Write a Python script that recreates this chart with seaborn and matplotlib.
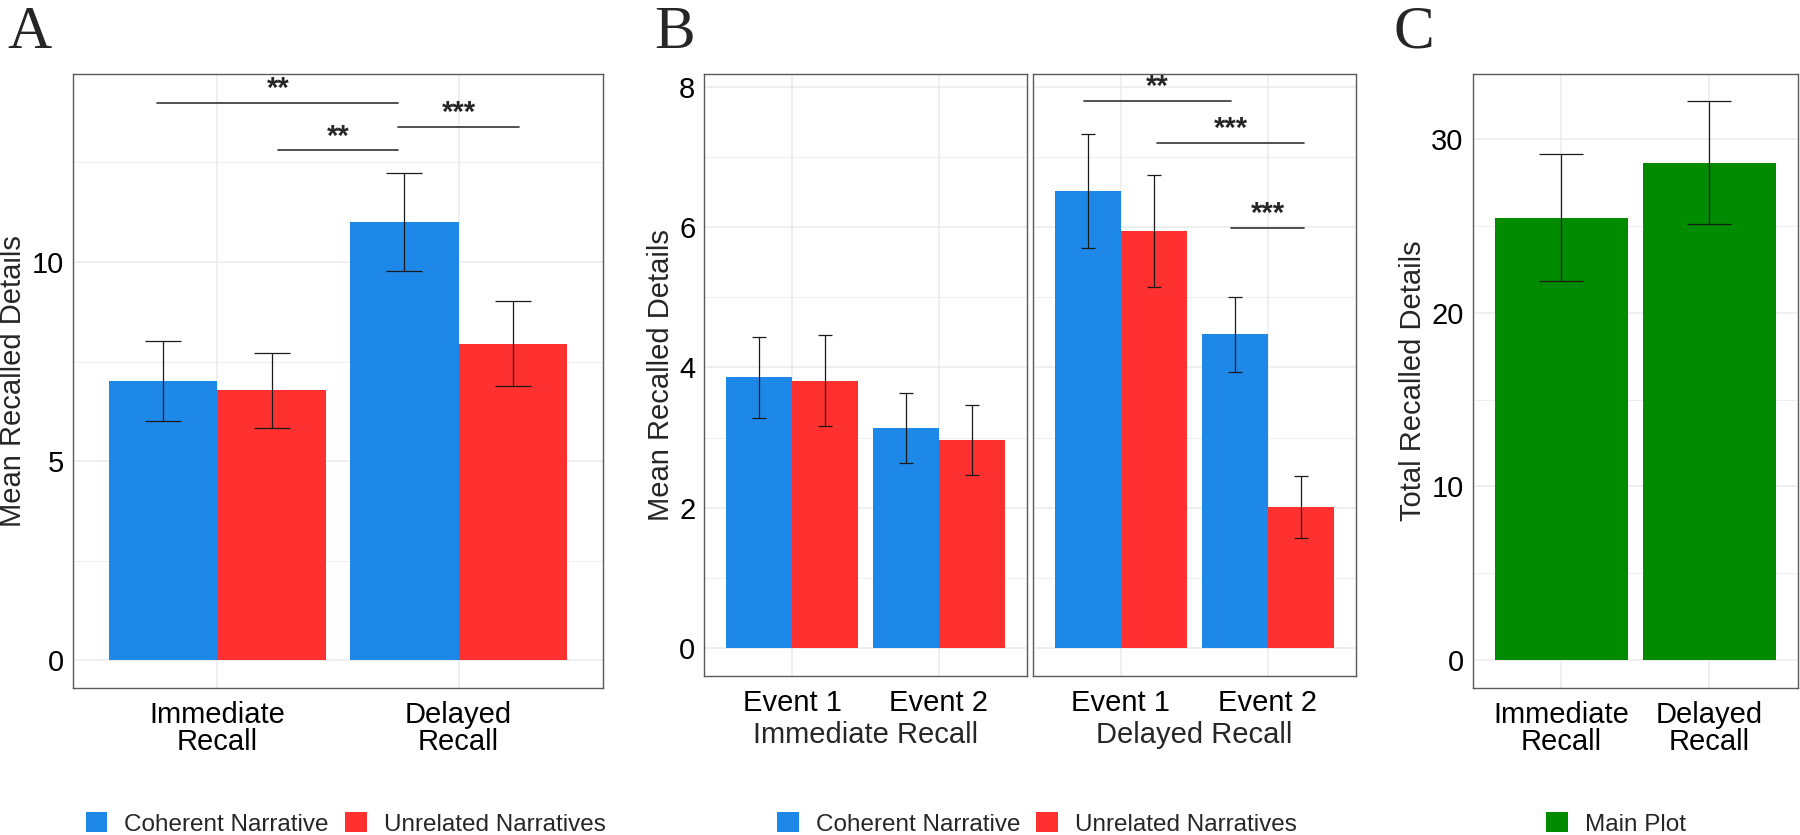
import matplotlib
import matplotlib.pyplot as plt
import numpy as np
import pandas as pd
import seaborn as sns
from matplotlib.container import BarContainer

matplotlib.use("Agg")

# --- DATA ---
RECALL = ["Immediate\nRecall", "Delayed\nRecall"]
CONDITIONS = ["Coherent Narrative", "Unrelated Narratives"]
EVENTS = ["Event 1", "Event 2"]
PHASES = ["Immediate Recall", "Delayed Recall"]
TOTAL_SERIES = ["Main Plot"]

# panel A: mean recalled details per recall phase
A_COHERENT = [7.02, 11.0]
A_COHERENT_SE = [1.0, 1.23]
A_UNRELATED = [6.78, 7.95]
A_UNRELATED_SE = [0.94, 1.06]

# panel B: per event, one facet per recall phase
B_IMM_COHERENT = [3.86, 3.14]
B_IMM_COHERENT_SE = [0.58, 0.50]
B_IMM_UNRELATED = [3.81, 2.97]
B_IMM_UNRELATED_SE = [0.65, 0.50]
B_DEL_COHERENT = [6.51, 4.47]
B_DEL_COHERENT_SE = [0.81, 0.53]
B_DEL_UNRELATED = [5.94, 2.01]
B_DEL_UNRELATED_SE = [0.80, 0.44]

# panel C: total recalled details
C_TOTAL = [25.5, 28.65]
C_TOTAL_SE = [3.65, 3.55]

# significance brackets: (x start, x end, height, label)
A_SIG = [(-0.25, 0.75, 14.0, "**"), (0.25, 0.75, 12.8, "**"), (0.75, 1.25, 13.4, "***")]
B_SIG = [(-0.25, 0.75, 7.79, "**"), (0.25, 1.25, 7.2, "***"), (0.75, 1.25, 5.99, "***")]

BLUE = "#1E88E8"
RED = "#FF3030"
GREEN = "#008B00"
FS = 21

sns.set_style("white")
plt.rcParams["font.family"] = ["Liberation Sans", "DejaVu Sans"]

W, H = 1800, 835
fig = plt.figure(figsize=(W / 100, H / 100), dpi=100)


def px_axes(x0, y0, x1, y1):
    return fig.add_axes([x0 / W, 1 - y1 / H, (x1 - x0) / W, (y1 - y0) / H])


def style_axes(ax, yticks, yminor, ylim):
    ax.set_facecolor("white")
    for s in ax.spines.values():
        s.set_visible(True)
        s.set_color("#5a5a5a")
        s.set_linewidth(1.0)
    ax.set_xlim(-0.6, 1.6)
    ax.set_ylim(*ylim)
    ax.set_yticks(yticks)
    ax.set_yticks(yminor, minor=True)
    ax.grid(True, which="major", color="#ebebeb", lw=1.1)
    ax.grid(True, which="minor", axis="y", color="#ebebeb", lw=0.6)
    ax.set_axisbelow(True)
    ax.tick_params(which="major", length=3, width=0.9, color="#333333", pad=3.5,
                   labelsize=FS, labelcolor="black")
    ax.tick_params(axis="x", pad=6.5)
    ax.tick_params(which="minor", length=0)
    ax.set_xlabel("")
    ax.set_ylabel("")


def add_errorbars(ax, errs, capsize):
    bars = [c for c in ax.containers if isinstance(c, BarContainer)]
    for container, se in zip(bars, errs):
        for bar, e in zip(container, se):
            ax.errorbar(bar.get_x() + bar.get_width() / 2, bar.get_height(), yerr=e,
                        color="#1a1a1a", lw=0.9, capsize=capsize, capthick=0.9)


def add_brackets(ax, brackets):
    for x0, x1, y, label in brackets:
        ax.plot([x0, x1], [y, y], color="#333333", lw=1.2)
        ax.annotate(label, xy=((x0 + x1) / 2, y), xytext=(0, 4.3), textcoords="offset points",
                    ha="center", va="baseline", fontsize=21, fontweight="bold")


def legend_below(ax, x, y):
    sns.move_legend(ax, "center", bbox_to_anchor=(x, y), ncol=2, title=None, frameon=False,
                    fontsize=17.5, handlelength=0.9, handleheight=0.9, handletextpad=0.7,
                    columnspacing=0.65, borderpad=0, borderaxespad=0)


# ---------------- Panel A ----------------
df_a = pd.DataFrame({
    "recall": RECALL * 2,
    "condition": np.repeat(CONDITIONS, 2),
    "mean": A_COHERENT + A_UNRELATED,
})
ax_a = px_axes(72.7, 74, 603.4, 688.3)
sns.barplot(data=df_a, x="recall", y="mean", hue="condition", order=RECALL,
            hue_order=CONDITIONS, palette=[BLUE, RED], width=0.9, saturation=1,
            errorbar=None, linewidth=0, ax=ax_a)
style_axes(ax_a, [0, 5, 10], [2.5, 7.5, 12.5], (-0.70, 14.72))
add_errorbars(ax_a, [A_COHERENT_SE, A_UNRELATED_SE], 12.8)
add_brackets(ax_a, A_SIG)
ax_a.set_ylabel("Mean Recalled Details", fontsize=FS, labelpad=3)
for t in ax_a.get_xticklabels():
    t.set_linespacing(0.95)
legend_below(ax_a, 0.514, -0.221)

# ---------------- Panel B ----------------
df_b = pd.DataFrame({
    "phase": np.repeat(PHASES, 4),
    "event": EVENTS * 4,
    "condition": np.tile(np.repeat(CONDITIONS, 2), 2),
    "mean": B_IMM_COHERENT + B_IMM_UNRELATED + B_DEL_COHERENT + B_DEL_UNRELATED,
})
ax_b1 = px_axes(704.3, 74, 1026.7, 675.7)
ax_b2 = px_axes(1032.7, 74, 1355.7, 675.7)
for ax, phase, show_legend in [(ax_b1, PHASES[0], True), (ax_b2, PHASES[1], False)]:
    sns.barplot(data=df_b[df_b["phase"] == phase], x="event", y="mean", hue="condition",
                order=EVENTS, hue_order=CONDITIONS, palette=[BLUE, RED], width=0.9,
                saturation=1, errorbar=None, linewidth=0, legend=show_legend, ax=ax)
    style_axes(ax, [0, 2, 4, 6, 8], [1, 3, 5, 7], (-0.39, 8.18))
    ax.set_xlabel(phase, fontsize=FS, labelpad=3)
add_errorbars(ax_b1, [B_IMM_COHERENT_SE, B_IMM_UNRELATED_SE], 5.3)
add_errorbars(ax_b2, [B_DEL_COHERENT_SE, B_DEL_UNRELATED_SE], 5.3)
add_brackets(ax_b2, B_SIG)
ax_b1.set_ylabel("Mean Recalled Details", fontsize=FS, labelpad=3)
ax_b2.tick_params(axis="y", which="both", length=0, labelleft=False)
legend_below(ax_b1, 1.031, -0.2465)

# ---------------- Panel C ----------------
df_c = pd.DataFrame({
    "recall": RECALL,
    "series": TOTAL_SERIES * 2,
    "total": C_TOTAL,
})
ax_c = px_axes(1472.7, 74, 1797.7, 688.3)
sns.barplot(data=df_c, x="recall", y="total", hue="series", order=RECALL,
            palette=[GREEN], width=0.9, saturation=1, errorbar=None, linewidth=0, ax=ax_c)
style_axes(ax_c, [0, 10, 20, 30], [5, 15, 25], (-1.63, 33.77))
add_errorbars(ax_c, [C_TOTAL_SE], 15.5)
ax_c.set_ylabel("Total Recalled Details", fontsize=FS, labelpad=3)
for t in ax_c.get_xticklabels():
    t.set_linespacing(0.95)
legend_below(ax_c, 0.441, -0.221)

# panel letters
for x, letter in [(7, "A"), (654, "B"), (1393, "C")]:
    fig.text(x / W, 1 - 48 / H, letter, fontsize=44, family="Liberation Serif", va="baseline")

fig.savefig("out.png", dpi=100)
